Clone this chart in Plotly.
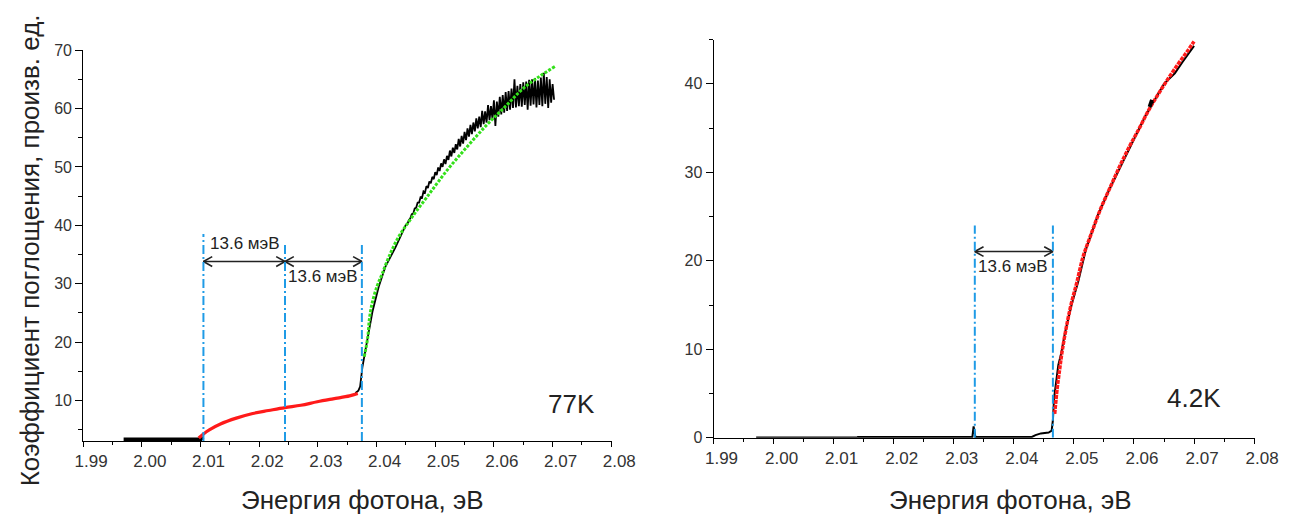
import plotly.graph_objects as go

# ---------------- data: 77 K panel ----------------
base77_x = [1.9969, 2.0100, 2.0104]
base77_y = [3.35, 3.35, 3.8]

red77_x = [2.0097, 2.0105, 2.0115, 2.0134, 2.0161, 2.0189, 2.0216, 2.0244, 2.0271, 2.0299, 2.0326, 2.0354, 2.0368]
red77_y = [3.6, 4.3, 5.0, 6.0, 7.0, 7.8, 8.3, 8.8, 9.2, 9.8, 10.3, 10.8, 11.2]

black77_x = [2.0364, 2.0369, 2.0372, 2.0374, 2.0376, 2.0379, 2.0385, 2.0393, 2.0404, 2.0415, 2.0432, 2.0445,
             2.04500, 2.04525, 2.04550, 2.04575, 2.04600, 2.04625, 2.04650, 2.04675, 2.04700, 2.04725,
             2.04750, 2.04775, 2.04800, 2.04825, 2.04850, 2.04875, 2.04900, 2.04925, 2.04950, 2.04975,
             2.05000, 2.05025, 2.05050, 2.05075, 2.05100, 2.05125, 2.05150, 2.05175, 2.05200, 2.05225,
             2.05250, 2.05275, 2.05300, 2.05325, 2.05350, 2.05375, 2.05400, 2.05425, 2.05450, 2.05475,
             2.05500, 2.05525, 2.05550, 2.05575, 2.05600, 2.05625, 2.05650, 2.05675, 2.05700, 2.05725,
             2.05750, 2.05775, 2.05800, 2.05825, 2.05850, 2.05875, 2.05900, 2.05925, 2.05950, 2.05975,
             2.06000, 2.06025, 2.06050, 2.06075, 2.06100, 2.06125, 2.06150, 2.06175, 2.06200, 2.06225,
             2.06250, 2.06275, 2.06300, 2.06325, 2.06350, 2.06375, 2.06400, 2.06425, 2.06450, 2.06475,
             2.06500, 2.06525, 2.06550, 2.06575, 2.06600, 2.06625, 2.06650, 2.06675, 2.06700, 2.06725,
             2.06750, 2.06775, 2.06800, 2.06825, 2.06850, 2.06875, 2.06900, 2.06925, 2.06950, 2.06975,
             2.07000, 2.07025]
black77_y = [11.3, 11.7, 12.4, 14.2, 15.8, 17.5, 20.8, 25.2, 29.6, 32.9, 36.2, 39.0,
             40.1, 40.2, 40.9, 41.2, 41.9, 42.0, 42.9, 43.0, 43.9, 43.9,
             44.8, 44.7, 45.8, 45.6, 46.7, 46.4, 47.5, 47.2, 48.3, 47.9,
             49.1, 48.6, 49.9, 49.3, 50.6, 50.0, 51.3, 50.5, 51.9, 51.2,
             52.8, 51.8, 53.3, 52.4, 53.9, 53.0, 54.8, 53.5, 55.3, 54.0,
             56.0, 54.6, 56.6, 55.2, 57.2, 55.6, 57.6, 56.1, 58.3, 56.6,
             58.6, 56.8, 59.6, 57.3, 59.5, 57.6, 60.6, 58.0, 60.4, 58.2,
             61.4, 57.0, 61.2, 58.6, 62.0, 59.0, 62.3, 59.3, 62.8, 59.6,
             63.0, 59.8, 63.4, 60.1, 65.0, 60.2, 63.9, 60.4, 64.2, 60.3,
             64.5, 60.6, 64.6, 59.8, 64.9, 60.5, 65.0, 60.7, 65.2, 60.2,
             64.8, 60.6, 65.3, 60.4, 66.1, 60.8, 65.4, 60.1, 65.0, 61.0,
             64.2, 61.5]

green77_x = [2.0379, 2.0385, 2.0388, 2.0393, 2.0401, 2.0410, 2.0421, 2.0437, 2.0459, 2.0487,
             2.0520, 2.0553, 2.0587, 2.0620, 2.0653, 2.0704]
green77_y = [17.5, 20.8, 24.1, 26.9, 29.6, 31.8, 34.6, 37.9, 41.2, 45.0,
             49.4, 53.3, 57.1, 60.4, 63.7, 67.2]

vlines77_x = [2.0105, 2.0244, 2.0375]
vlines77_top = [38.5, 36.9, 36.9]
arrows77 = [(2.0105, 2.0244), (2.0244, 2.0375)]
arrow77_y = 33.8
labels77 = ["13.6 мэВ", "13.6 мэВ"]
labels77_x = [2.0176, 2.0308]
labels77_y = [36.9, 31.2]

# ---------------- data: 4.2 K panel ----------------
base42_x = [1.9971, 2.0139]
base42_y = [0.05, 0.05]

black42_x = [2.0139, 2.0331, 2.0333, 2.0334, 2.0336, 2.0430, 2.0436, 2.0445, 2.0458, 2.0463,
             2.0465, 2.0467, 2.0470, 2.0474, 2.0479, 2.0485, 2.0496, 2.0507, 2.0520, 2.0540,
             2.0560, 2.0590, 2.0620, 2.0650, 2.0668, 2.0680, 2.0690, 2.0700]
black42_y = [0.1, 0.1, 1.3, 0.9, 0.1, 0.1, 0.3, 0.5, 0.6, 0.8,
             2.0, 4.5, 6.4, 8.2, 9.6, 11.8, 15.0, 17.6, 21.3, 25.2,
             28.2, 32.4, 36.5, 40.0, 41.2, 42.4, 43.4, 44.3]
blob42_x = [2.0626, 2.0630]
blob42_y = [37.4, 38.2]

red42_x = [2.0468, 2.0472, 2.0476, 2.0480, 2.0486, 2.0495, 2.0505, 2.0515, 2.0528, 2.0544,
           2.0561, 2.0577, 2.0593, 2.0609, 2.0625, 2.0641, 2.0657, 2.0673, 2.0688, 2.0700]
red42_y = [2.7, 5.5, 7.6, 9.6, 12.0, 15.0, 17.6, 20.4, 22.9, 25.8,
           28.4, 30.8, 33.0, 35.0, 37.1, 38.9, 40.6, 42.2, 43.6, 44.8]

vlines42_x = [2.0335, 2.0465]
vlines42_top = [24.0, 24.0]
arrows42 = [(2.0335, 2.0465)]
arrow42_y = 21.05
labels42 = ["13.6 мэВ"]
labels42_x = [2.0398]
labels42_y = [19.4]

x_ticks = [1.99, 2.00, 2.01, 2.02, 2.03, 2.04, 2.05, 2.06, 2.07, 2.08]
x_minor = [1.995, 2.005, 2.015, 2.025, 2.035, 2.045, 2.055, 2.065, 2.075]
y77_ticks = [10, 20, 30, 40, 50, 60, 70]
y77_minor = [5, 15, 25, 35, 45, 55, 65]
y42_ticks = [0, 10, 20, 30, 40]
y42_minor = [5, 15, 25, 35, 45]

y_title = "Коэффициент поглощения, произв. ед."
x_title = "Энергия фотона, эВ"

# ---------------- styling ----------------
FONT = "Liberation Sans, Arial, sans-serif"
TICKC = "#333333"
BLUE = "#1f9be6"
RED = "#ff1a1a"
GREEN = "#33e01a"

fig = go.Figure()

def line(x, y, xa, ya, color, width, dash=None, shape="linear"):
    fig.add_trace(go.Scatter(x=x, y=y, xaxis=xa, yaxis=ya, mode="lines",
                             line=dict(color=color, width=width, dash=dash, shape=shape),
                             hoverinfo="skip", showlegend=False))

# 77 K
line(base77_x, base77_y, "x", "y", "black", 4)
line(black77_x, black77_y, "x", "y", "black", 1.8)
line(red77_x, red77_y, "x", "y", RED, 3.2, shape="spline")
line(green77_x, green77_y, "x", "y", GREEN, 3, dash="3px,1.5px", shape="spline")

# 4.2 K
line(base42_x, base42_y, "x2", "y2", "black", 1.5)
line(black42_x, black42_y, "x2", "y2", "black", 2)
line(red42_x, red42_y, "x2", "y2", RED, 3.5, dash="4px,1px", shape="spline")
line(blob42_x, blob42_y, "x2", "y2", "black", 4)


def arrows(pairs, yv, xa, ya, dx, dy):
    xs, ys = [], []
    for a, b in pairs:
        xs += [a + dx, a, a + dx, None, a, b, None, b - dx, b, b - dx, None]
        ys += [yv + dy, yv, yv - dy, None, yv, yv, None, yv + dy, yv, yv - dy, None]
    fig.add_trace(go.Scatter(x=xs, y=ys, xaxis=xa, yaxis=ya, mode="lines",
                             line=dict(color="#222222", width=1.6),
                             hoverinfo="skip", showlegend=False))

arrows(arrows77, arrow77_y, "x", "y", 0.0015, 0.85)
arrows(arrows42, arrow42_y, "x2", "y2", 0.00145, 0.55)

shapes = []
for xv, top in zip(vlines77_x, vlines77_top):
    shapes.append(dict(type="line", xref="x", yref="y", x0=xv, x1=xv, y0=3.07, y1=top,
                       line=dict(color=BLUE, width=2, dash="9px,3px,2px,3px"), layer="above"))
for xv, top in zip(vlines42_x, vlines42_top):
    shapes.append(dict(type="line", xref="x2", yref="y2", x0=xv, x1=xv, y0=0, y1=top,
                       line=dict(color=BLUE, width=2, dash="9px,3px,2px,3px"), layer="above"))

def ann(text, x, y, xref, yref, size, angle=0):
    return dict(text=text, x=x, y=y, xref=xref, yref=yref, showarrow=False,
                xanchor="center", yanchor="middle", textangle=angle,
                font=dict(family=FONT, size=size, color="#222"))

annotations = []
for t, xv, yv in zip(labels77, labels77_x, labels77_y):
    annotations.append(ann(t, xv, yv, "x", "y", 17))
for t, xv, yv in zip(labels42, labels42_x, labels42_y):
    annotations.append(ann(t, xv, yv, "x2", "y2", 17))
annotations += [
    ann("77K", 577 / 1299, 1 - 409 / 521, "paper", "paper", 26),
    ann("4.2K", 1215 / 1299, 1 - 403 / 521, "paper", "paper", 26),
    ann(y_title, 21 / 1299, 1 - 250 / 521, "paper", "paper", 26, -90),
    ann(x_title, 362 / 1299, 1 - 509 / 521, "paper", "paper", 26),
    ann(x_title, 1027 / 1299, 1 - 509 / 521, "paper", "paper", 26),
]

def xaxis(domain, anchor):
    return dict(domain=domain, anchor=anchor, range=[1.99, 2.0802], showline=True, linecolor="black",
                linewidth=1, ticks="outside", ticklen=5, tickcolor="black", tickwidth=1,
                tickmode="array", tickvals=x_ticks, ticktext=[f"{v:.2f}" for v in x_ticks],
                tickfont=dict(family=FONT, size=17, color=TICKC), ticklabelshift=8,
                minor=dict(tickmode="array", tickvals=x_minor, ticks="outside", ticklen=3,
                           tickcolor="black", showgrid=False),
                showgrid=False, zeroline=False, fixedrange=True)

def yaxis(domain, anchor, rng, tv, mv):
    return dict(domain=domain, anchor=anchor, range=rng, showline=True, linecolor="black",
                linewidth=1, ticks="outside", ticklen=7, tickcolor="black", tickwidth=1,
                tickmode="array", tickvals=tv, ticktext=[str(v) for v in tv],
                tickfont=dict(family=FONT, size=16, color=TICKC),
                minor=dict(tickmode="array", tickvals=mv, ticks="outside", ticklen=4,
                           tickcolor="black", showgrid=False),
                showgrid=False, zeroline=False, fixedrange=True)

fig.update_layout(
    width=1299, height=521, margin=dict(l=0, r=0, t=0, b=0),
    paper_bgcolor="white", plot_bgcolor="white", showlegend=False,
    xaxis=xaxis([76 / 1299, 618.7 / 1299], "y"),
    yaxis=yaxis([1 - 447.7 / 521, 1 - 43.5 / 521], "x", [3.07, 70.0], y77_ticks, y77_minor),
    xaxis2=xaxis([722.3 / 1299, 1277.8 / 1299], "y2"),
    yaxis2=yaxis([1 - 444.3 / 521, 1 - 32.7 / 521], "x2", [0, 45], y42_ticks, y42_minor),
    shapes=shapes, annotations=annotations,
)

fig.write_html("out.html")
